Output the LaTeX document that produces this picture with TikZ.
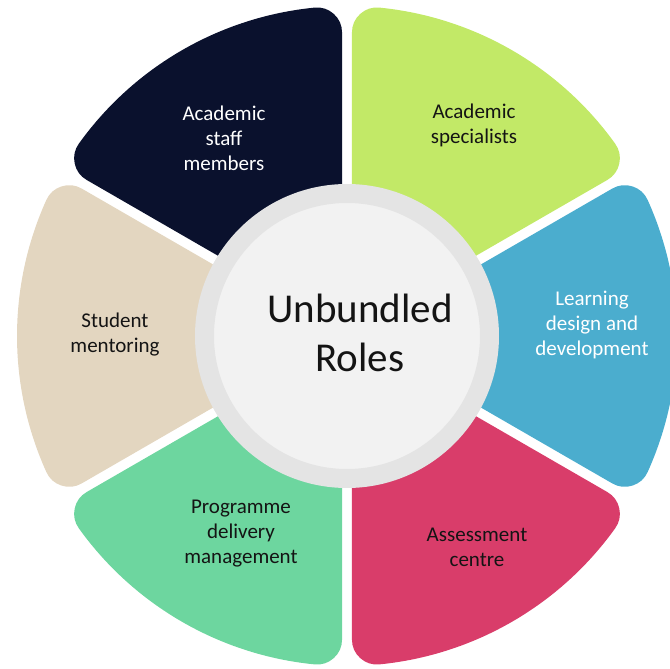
\documentclass[tikz,border=0pt]{standalone}
\usepackage{fontspec}
\setmainfont{Carlito}
\definecolor{navy}{RGB}{10,17,45}
\definecolor{lime}{RGB}{194,233,103}
\definecolor{sky}{RGB}{75,173,206}
\definecolor{rose}{RGB}{217,61,106}
\definecolor{mint}{RGB}{109,214,159}
\definecolor{sand}{RGB}{227,214,192}
\definecolor{ringgray}{RGB}{228,228,228}
\definecolor{coregray}{RGB}{242,242,242}
\definecolor{ink}{RGB}{20,20,20}
\begin{document}
\begin{tikzpicture}[x=1pt, y=1pt]
	\tikzstyle{petal}    = [line width=50pt, line join=round]
	\tikzstyle{roletext} = [align=center, font=\fontsize{21}{25}\selectfont]
	\tikzstyle{hubtext}  = [align=center, font=\fontsize{41}{49}\selectfont, text=ink]

	\clip (-347,-333) rectangle (323,336);

	% petals: inset sector, widened by a round-joined stroke
	\foreach \ang/\col in {120/navy, 60/lime, 0/sky, -60/rose, -120/mint, 180/sand}
		\filldraw[petal, fill=\col, draw=\col] (\ang:60) -- (\ang-24.36:305) arc[start angle=\ang-24.36, end angle=\ang+24.36, radius=305] -- cycle;

	\node[circle, draw=ringgray, line width=19pt, fill=coregray, minimum size=285pt, inner sep=0pt] (hub) at (0,0) {};
	\node[hubtext] (title) at (13,3) {Unbundled\\Roles};

	\foreach \name/\x/\y/\txt/\tc in {staff/-123/198/{Academic\\staff\\members}/white, specialists/127/211/{Academic\\specialists}/ink, design/245/11/{Learning\\design and\\development}/white, assessment/130/-211/{Assessment\\centre}/ink, delivery/-106/-198/{Programme\\delivery\\management}/ink, mentoring/-232/1/{Student\\mentoring}/ink}
		\node[roletext, text=\tc] (\name) at (\x, \y) {\txt};

\end{tikzpicture}
\end{document}
